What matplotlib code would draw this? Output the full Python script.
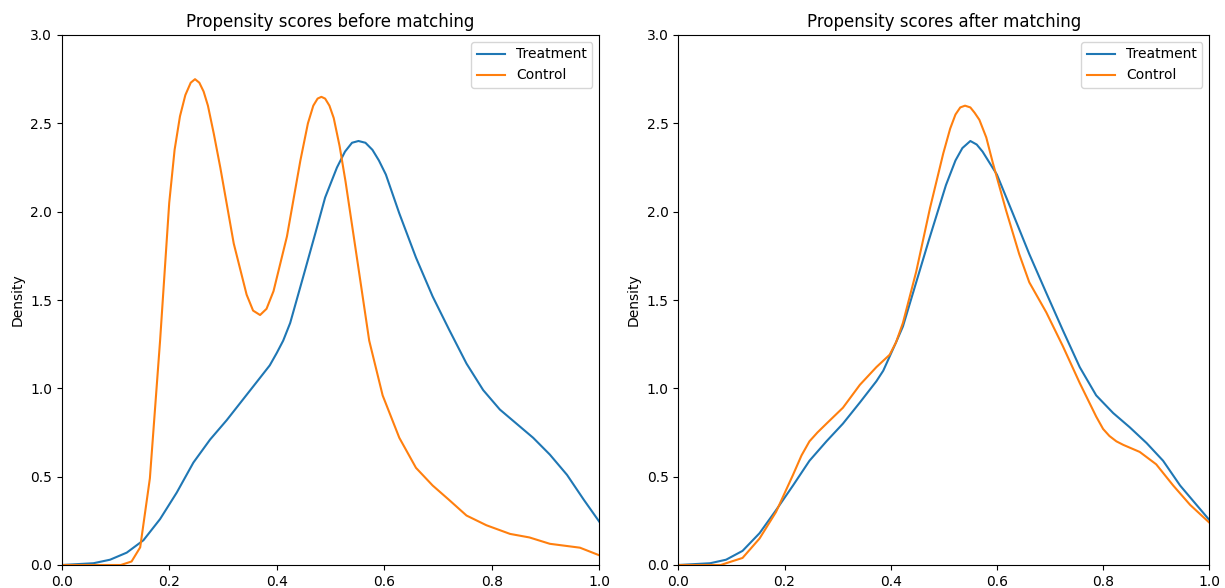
import matplotlib
matplotlib.use("Agg")
import matplotlib.pyplot as plt

# Before matching
before_treat_x = [0.0, 0.059, 0.09, 0.121, 0.152, 0.183, 0.214, 0.245, 0.276, 0.307, 0.338, 0.369, 0.387,
                  0.4, 0.412, 0.425, 0.45, 0.472, 0.49, 0.512, 0.527, 0.54, 0.552, 0.565, 0.578, 0.59,
                  0.603, 0.628, 0.659, 0.69, 0.721, 0.753, 0.784, 0.815, 0.846, 0.877, 0.908, 0.94,
                  0.971, 1.0]
before_treat_y = [0.0, 0.01, 0.03, 0.07, 0.14, 0.26, 0.41, 0.58, 0.71, 0.82, 0.94, 1.06, 1.13,
                  1.20, 1.27, 1.37, 1.64, 1.88, 2.08, 2.25, 2.34, 2.39, 2.40, 2.39, 2.35, 2.29,
                  2.21, 1.99, 1.74, 1.52, 1.33, 1.14, 0.99, 0.88, 0.80, 0.72, 0.625, 0.51,
                  0.37, 0.245]

before_ctrl_x = [0.0, 0.11, 0.13, 0.146, 0.164, 0.183, 0.2, 0.21, 0.22, 0.23, 0.24, 0.248, 0.256, 0.264,
                 0.272, 0.283, 0.295, 0.32, 0.344, 0.356, 0.369, 0.381, 0.394, 0.419, 0.444, 0.458,
                 0.468, 0.476, 0.483, 0.49, 0.498, 0.506, 0.517, 0.528, 0.553, 0.572,
                 0.597, 0.628, 0.659, 0.69, 0.72, 0.753, 0.79, 0.834, 0.87, 0.908, 0.964, 1.0]
before_ctrl_y = [0.0, 0.0, 0.02, 0.10, 0.49, 1.27, 2.05, 2.35, 2.54, 2.66, 2.73, 2.75, 2.73, 2.68,
                 2.60, 2.44, 2.25, 1.82, 1.53, 1.44, 1.415, 1.45, 1.55, 1.86, 2.29, 2.50,
                 2.60, 2.64, 2.65, 2.64, 2.60, 2.53, 2.37, 2.17, 1.66, 1.27,
                 0.96, 0.72, 0.55, 0.45, 0.37, 0.28, 0.225, 0.176, 0.156, 0.12, 0.098, 0.055]

# After matching
after_treat_x = [0.0, 0.06, 0.09, 0.121, 0.153, 0.184, 0.216, 0.247, 0.279, 0.31, 0.342, 0.373, 0.386,
                 0.398, 0.41, 0.423, 0.448, 0.472, 0.504, 0.522, 0.535, 0.55, 0.562, 0.573, 0.6, 0.63,
                 0.661, 0.693, 0.724, 0.756, 0.787, 0.819, 0.85, 0.882, 0.913, 0.945, 0.976, 1.0]
after_treat_y = [0.0, 0.01, 0.03, 0.08, 0.18, 0.31, 0.45, 0.59, 0.70, 0.80, 0.92, 1.04, 1.10,
                 1.18, 1.26, 1.35, 1.60, 1.84, 2.15, 2.29, 2.36, 2.40, 2.38, 2.34, 2.21, 1.99,
                 1.76, 1.54, 1.33, 1.12, 0.96, 0.86, 0.78, 0.69, 0.59, 0.45, 0.34, 0.255]

after_ctrl_x = [0.0, 0.08, 0.09, 0.121, 0.153, 0.184, 0.216, 0.232, 0.247, 0.262, 0.279, 0.31, 0.342,
                0.373, 0.398, 0.41, 0.423, 0.448, 0.474, 0.499, 0.512, 0.522, 0.531, 0.54, 0.55, 0.558,
                0.567, 0.58, 0.592, 0.617, 0.642, 0.661, 0.693, 0.724, 0.756, 0.787, 0.8, 0.812, 0.825,
                0.838, 0.869, 0.9, 0.932, 0.964, 1.0]
after_ctrl_y = [0.0, 0.0, 0.01, 0.04, 0.15, 0.30, 0.51, 0.62, 0.70, 0.75, 0.80, 0.89, 1.02,
                1.12, 1.19, 1.26, 1.37, 1.66, 2.02, 2.33, 2.47, 2.55, 2.59, 2.60, 2.59, 2.56,
                2.52, 2.42, 2.28, 2.01, 1.76, 1.60, 1.43, 1.24, 1.03, 0.84, 0.77, 0.73, 0.70,
                0.68, 0.64, 0.57, 0.45, 0.34, 0.24]

titles = ["Propensity scores before matching", "Propensity scores after matching"]
x_ticks = [0.0, 0.2, 0.4, 0.6, 0.8, 1.0]
y_ticks = [0.0, 0.5, 1.0, 1.5, 2.0, 2.5, 3.0]

W, H = 1225, 588
fig = plt.figure(figsize=(W / 100, H / 100), dpi=100)
top_px, bot_px = 35, 565
ax1 = fig.add_axes([61.7 / W, 1 - bot_px / H, (599.3 - 61.7) / W, (bot_px - top_px) / H])
ax2 = fig.add_axes([678.3 / W, 1 - bot_px / H, (1209.3 - 678.3) / W, (bot_px - top_px) / H])
axes = [ax1, ax2]

data = [(before_treat_x, before_treat_y, before_ctrl_x, before_ctrl_y),
        (after_treat_x, after_treat_y, after_ctrl_x, after_ctrl_y)]

for ax, title, (tx, ty, cx, cy) in zip(axes, titles, data):
    ax.plot(tx, ty, color="#1f77b4", lw=1.5, label="Treatment")
    ax.plot(cx, cy, color="#ff7f0e", lw=1.5, label="Control")
    ax.set_xlim(0, 1)
    ax.set_ylim(0, 3)
    ax.set_xticks(x_ticks)
    ax.set_yticks(y_ticks)
    ax.set_title(title)
    ax.set_ylabel("Density")
    ax.legend(loc="upper right")

fig.savefig("out.png", dpi=100)
